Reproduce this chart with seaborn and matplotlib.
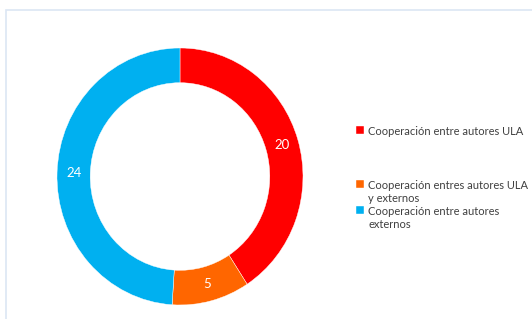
import matplotlib
matplotlib.use("Agg")
import matplotlib.pyplot as plt
import matplotlib.patches as mpatches
import numpy as np
import seaborn as sns

# Chart data
categories = [
    "Cooperación entre autores ULA",
    "Cooperación entres autores ULA\ny externos",
    "Cooperación entre autores\nexternos",
]
values = [20, 5, 24]
colors = ["#FF0000", "#FF6600", "#00B0F0"]

sns.set_theme(style="white")
plt.rcParams["font.family"] = ["Lato", "DejaVu Sans"]

fig = plt.figure(figsize=(5.32, 3.19), dpi=100)
fig.patch.set_facecolor("white")

# light frame around the chart area
fig.patches.append(mpatches.Rectangle((6 / 532, -0.1), 1.2, 1 - 10 / 319 + 0.1,
                                      transform=fig.transFigure, fill=False,
                                      edgecolor="#DCE6F4", linewidth=1.2))

# the original donut is slightly stretched vertically
ax = fig.add_axes([57 / 532, 14 / 319, 246 / 532, 257 / 319])
wedges, texts = ax.pie(values, colors=colors, startangle=90, counterclock=False,
                       radius=1, wedgeprops=dict(width=0.27, edgecolor="white", linewidth=0.3))
ax.set_xlim(-1, 1)
ax.set_ylim(-1, 1)
ax.set_aspect("auto")

# value labels in the middle of the ring
total = sum(values)
start = 90.0
for v in values:
    mid = np.deg2rad(start - v / total * 360 / 2)
    start -= v / total * 360
    ax.text(0.865 * np.cos(mid), 0.865 * np.sin(mid), str(v), ha="center", va="center",
            color="white", fontsize=9.5)

# legend, one block per entry, marker next to the first line
ypos = [130, 184, 210]
for w, lab, y in zip(wedges, categories, ypos):
    leg = fig.legend([w], [lab], loc="upper left",
                     bbox_to_anchor=(356 / 532, 1 - (y - 4) / 319),
                     frameon=False, fontsize=8, handlelength=0.7, handleheight=0.7,
                     handletextpad=0.4, borderpad=0, borderaxespad=0)
    for t in leg.get_texts():
        t.set_color("#404040")
        t.set_linespacing(1.2)
    for col in leg._legend_handle_box.get_children():
        for item in col.get_children():
            item.align = "top"

fig.savefig("out.png", dpi=100)
